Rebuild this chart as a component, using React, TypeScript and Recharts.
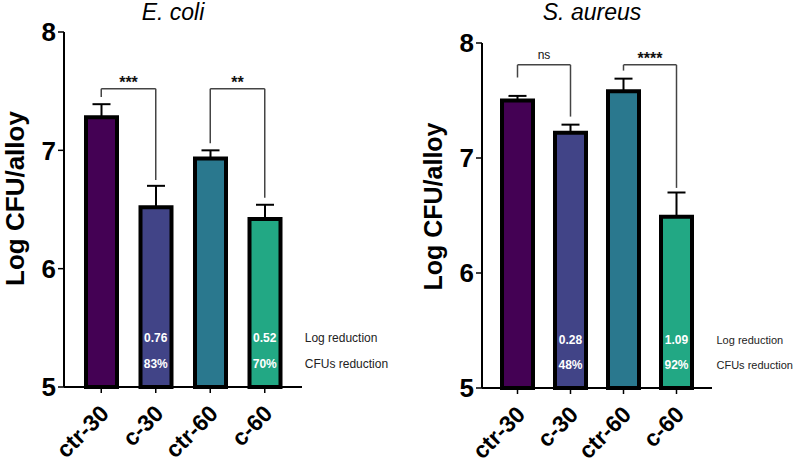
import React from 'react';
import {
  BarChart,
  Bar,
  Cell,
  XAxis,
  YAxis,
  ErrorBar,
  ReferenceLine,
  ReferenceDot,
  Label
} from 'recharts';

const categories = ['ctr-30', 'c-30', 'ctr-60', 'c-60'];
const barColors = ['#440154', '#414487', '#2A788E', '#22A884'];
const yTicks = [5, 6, 7, 8];

const ecoliMean = [7.28, 6.52, 6.93, 6.42];
const ecoliSd = [0.11, 0.18, 0.07, 0.12];
const ecoliLogRed = ['', '0.76', '', '0.52'];
const ecoliCfuRed = ['', '83%', '', '70%'];

const aureusMean = [7.5, 7.22, 7.58, 6.49];
const aureusSd = [0.04, 0.07, 0.11, 0.21];
const aureusLogRed = ['', '0.28', '', '1.09'];
const aureusCfuRed = ['', '48%', '', '92%'];

// brackets: [from, to, top, leftEnd, rightEnd, label]
const ecoliBrackets: [string, string, number, number, number, string][] = [
  ['ctr-30', 'c-30', 7.52, 7.45, 6.75, '***'],
  ['ctr-60', 'c-60', 7.52, 7.06, 6.6, '**']
];
const aureusBrackets: [string, string, number, number, number, string][] = [
  ['ctr-30', 'c-30', 7.81, 7.7, 7.36, 'ns'],
  ['ctr-60', 'c-60', 7.81, 7.76, 6.74, '****']
];

const FONT = 'Arial, "Liberation Sans", Helvetica, sans-serif';
const LOG_Y = 5.42;
const CFU_Y = 5.2;

const buildRows = (mean: number[], sd: number[]) =>
  categories.map((c, i) => ({ name: c, mean: mean[i], err: [0, sd[i]] }));

const XTick = (props: any) => {
  const { x, y, payload } = props;
  return (
    <g transform={`translate(${x + 9},${y + 20})`}>
      <text
        x={0}
        y={0}
        textAnchor="end"
        transform="rotate(-45)"
        fontFamily={FONT}
        fontWeight="bold"
        fontSize={23}
        fill="#000"
      >
        {payload.value}
      </text>
    </g>
  );
};

const yLabel = (cx: number, shift: number, size: number) => (props: any) => {
  const vb = props.viewBox;
  const cy = vb.y + vb.height / 2 + shift;
  return (
    <text
      x={cx}
      y={cy}
      transform={`rotate(-90 ${cx} ${cy})`}
      textAnchor="middle"
      dominantBaseline="central"
      fontFamily={FONT}
      fontWeight="bold"
      fontSize={size}
      fill="#000"
    >
      Log CFU/alloy
    </text>
  );
};

interface PanelProps {
  mean: number[];
  sd: number[];
  logRed: string[];
  cfuRed: string[];
  brackets: [string, string, number, number, number, string][];
  width: number;
  top: number;
  right: number;
  axisWidth: number;
  axisHeight: number;
  labelX: number;
  labelShift: number;
  labelSize: number;
  noteSize: number;
  pad: number;
}

const Panel: React.FC<PanelProps> = ({
  mean,
  sd,
  logRed,
  cfuRed,
  brackets,
  width,
  top,
  right,
  axisWidth,
  axisHeight,
  labelX,
  labelShift,
  labelSize,
  noteSize,
  pad
}) => {
  const data = buildRows(mean, sd);
  return (
    <BarChart
      width={width}
      height={465}
      data={data}
      margin={{ top, right, left: 0, bottom: 0 }}
      style={{ fontFamily: FONT }}
    >
      <XAxis
        dataKey="name"
        height={axisHeight}
        axisLine={{ stroke: '#000', strokeWidth: 2 }}
        tickLine={{ stroke: '#000', strokeWidth: 1.5 }}
        tickSize={6}
        padding={{ left: pad, right: pad }}
        tick={<XTick />}
        interval={0}
      />
      <YAxis
        domain={[5, 8]}
        ticks={yTicks}
        width={axisWidth}
        axisLine={{ stroke: '#000', strokeWidth: 2 }}
        tickLine={{ stroke: '#000', strokeWidth: 1.5 }}
        tickSize={6}
        tick={{ fill: '#000', fontSize: 26, fontWeight: 'bold', fontFamily: FONT }}
      >
        <Label content={yLabel(labelX, labelShift, labelSize)} />
      </YAxis>
      <Bar dataKey="mean" barSize={31} stroke="#000" strokeWidth={4} isAnimationActive={false}>
        {data.map((d, i) => (
          <Cell key={d.name} fill={barColors[i]} />
        ))}
        <ErrorBar dataKey="err" direction="y" width={9} stroke="#000" strokeWidth={2} />
      </Bar>
      {brackets.map(([a, b, topY, , , txt]) => (
        <ReferenceLine
          key={`h-${a}`}
          segment={[{ x: a, y: topY }, { x: b, y: topY }]}
          stroke="#444"
          strokeWidth={1.5}
          label={{
            value: txt,
            position: 'top',
            offset: txt === 'ns' ? 6 : 1,
            fill: '#111',
            fontFamily: FONT,
            fontSize: txt === 'ns' ? 12 : 16,
            fontWeight: txt === 'ns' ? 'normal' : 'bold'
          }}
        />
      ))}
      {brackets.map(([a, , topY, l]) => (
        <ReferenceLine key={`l-${a}`} segment={[{ x: a, y: l }, { x: a, y: topY }]} stroke="#444" strokeWidth={1.5} />
      ))}
      {brackets.map(([a, b, topY, , r]) => (
        <ReferenceLine key={`r-${a}`} segment={[{ x: b, y: r }, { x: b, y: topY }]} stroke="#444" strokeWidth={1.5} />
      ))}
      {categories.map((c, i) =>
        logRed[i] ? (
          <ReferenceDot
            key={`lr-${c}`}
            x={c}
            y={LOG_Y}
            r={0}
            stroke="none"
            label={{ value: logRed[i], position: 'center', fill: '#fff', fontSize: 12, fontWeight: 'bold', fontFamily: FONT }}
          />
        ) : null
      )}
      {categories.map((c, i) =>
        cfuRed[i] ? (
          <ReferenceDot
            key={`cr-${c}`}
            x={c}
            y={CFU_Y}
            r={0}
            stroke="none"
            label={{ value: cfuRed[i], position: 'center', fill: '#fff', fontSize: 12, fontWeight: 'bold', fontFamily: FONT }}
          />
        ) : null
      )}
      <ReferenceDot
        x={categories[3]}
        y={LOG_Y}
        r={0}
        stroke="none"
        label={{ value: 'Log reduction', position: 'right', offset: 40, fill: '#222', fontSize: noteSize, fontFamily: FONT }}
      />
      <ReferenceDot
        x={categories[3]}
        y={CFU_Y}
        r={0}
        stroke="none"
        label={{ value: 'CFUs reduction', position: 'right', offset: 40, fill: '#222', fontSize: noteSize, fontFamily: FONT }}
      />
    </BarChart>
  );
};

const titleStyle: React.CSSProperties = {
  position: 'absolute',
  top: 4,
  fontFamily: FONT,
  fontStyle: 'italic',
  fontSize: 23,
  lineHeight: '16px',
  color: '#000',
  transform: 'translateX(-50%)',
  whiteSpace: 'nowrap'
};

export default function App() {
  return (
    <div style={{ position: 'absolute', left: 0, top: 0, width: 796, height: 465, background: '#fff', overflow: 'hidden' }}>
      <div style={{ position: 'absolute', left: 0, top: 0 }}>
        <Panel
          mean={ecoliMean}
          sd={ecoliSd}
          logRed={ecoliLogRed}
          cfuRed={ecoliCfuRed}
          brackets={ecoliBrackets}
          width={400}
          top={32}
          right={98}
          axisWidth={64}
          axisHeight={78}
          labelX={15}
          labelShift={-11}
          labelSize={26}
          noteSize={12}
          pad={10}
        />
      </div>
      <div style={{ position: 'absolute', left: 400, top: 0 }}>
        <Panel
          mean={aureusMean}
          sd={aureusSd}
          logRed={aureusLogRed}
          cfuRed={aureusCfuRed}
          brackets={aureusBrackets}
          width={396}
          top={43}
          right={84}
          axisWidth={82}
          axisHeight={77}
          labelX={33}
          labelShift={-9}
          labelSize={25}
          noteSize={11}
          pad={9}
        />
      </div>
      <div style={{ ...titleStyle, left: 173 }}>E. coli</div>
      <div style={{ ...titleStyle, left: 592 }}>S. aureus</div>
    </div>
  );
}
